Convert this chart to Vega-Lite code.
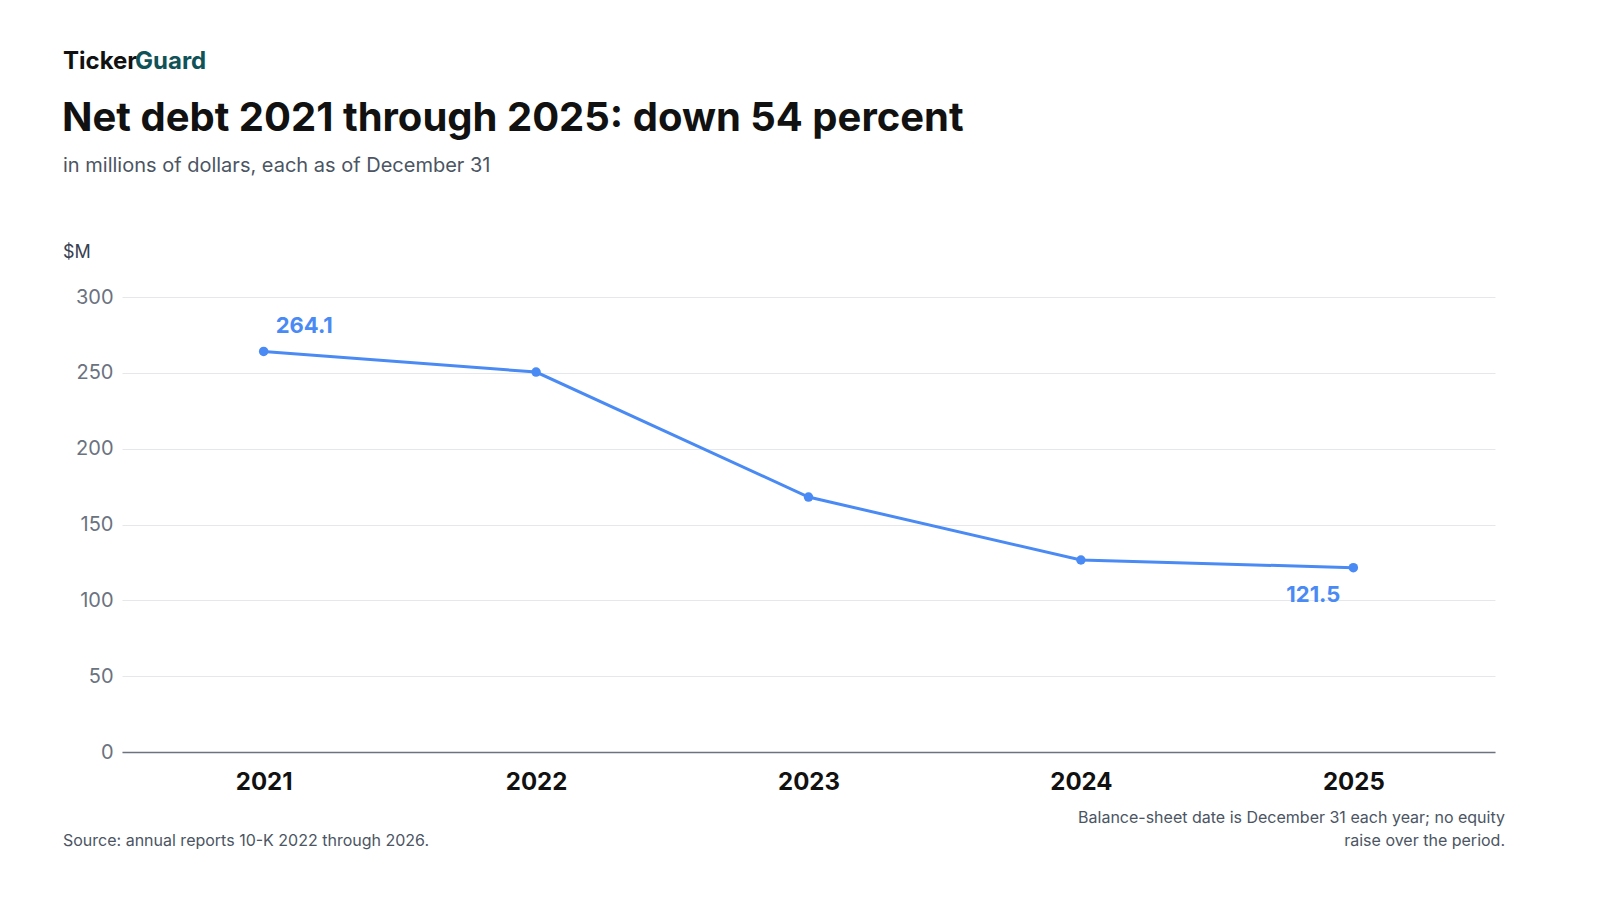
{
  "$schema": "https://vega.github.io/schema/vega-lite/v6.json",
  "width": 1373,
  "height": 455,
  "autosize": {"type": "none"},
  "padding": {"left": 122, "top": 297, "right": 105, "bottom": 148},
  "background": "#ffffff",
  "view": {"stroke": null},
  "config": {"font": "Inter", "text": {"font": "Inter"}},
  "data": {
    "values": [
      {"year": "2021", "debt": 264.1, "label": "264.1", "pos": "above"},
      {"year": "2022", "debt": 250.5, "label": "", "pos": ""},
      {"year": "2023", "debt": 168.1, "label": "", "pos": ""},
      {"year": "2024", "debt": 126.6, "label": "", "pos": ""},
      {"year": "2025", "debt": 121.5, "label": "121.5", "pos": "below"}
    ]
  },
  "encoding": {
    "x": {
      "field": "year", "type": "ordinal",
      "scale": {"type": "point", "padding": 0.52},
      "axis": {"title": null, "labelAngle": 0, "labelFontSize": 24, "labelFontWeight": "bold", "labelColor": "#111111", "ticks": false, "domainColor": "#6b7280", "domainWidth": 1.5, "labelPadding": 18}
    },
    "y": {
      "field": "debt", "type": "quantitative",
      "scale": {"domain": [0, 300]},
      "axis": {"title": null, "values": [0, 50, 100, 150, 200, 250, 300], "labelFontSize": 20, "labelColor": "#6b7280", "gridColor": "#e5e7eb", "domain": false, "ticks": false, "labelPadding": 9}
    }
  },
  "layer": [
    {"mark": {"type": "line", "color": "#4a8af4", "strokeWidth": 3}},
    {"mark": {"type": "point", "filled": true, "color": "#4a8af4", "size": 90, "opacity": 1}},
    {
      "transform": [{"filter": "datum.pos == 'above'"}],
      "mark": {"type": "text", "color": "#4a8af4", "fontSize": 22, "fontWeight": "bold", "align": "left", "dx": 12, "dy": -25},
      "encoding": {"text": {"field": "label"}}
    },
    {
      "transform": [{"filter": "datum.pos == 'below'"}],
      "mark": {"type": "text", "color": "#4a8af4", "fontSize": 22, "fontWeight": "bold", "align": "center", "dx": -40, "dy": 27},
      "encoding": {"text": {"field": "label"}}
    },
    {
      "data": {"values": [{"t": "Ticker"}]},
      "mark": {"type": "text", "fontSize": 24, "fontWeight": "bold", "color": "#111111", "align": "left", "baseline": "alphabetic"},
      "encoding": {"x": {"value": -59}, "y": {"value": -228}, "text": {"field": "t"}}
    },
    {
      "data": {"values": [{"t": "Guard"}]},
      "mark": {"type": "text", "fontSize": 24, "fontWeight": "bold", "color": "#0f5257", "align": "left", "baseline": "alphabetic"},
      "encoding": {"x": {"value": 13}, "y": {"value": -228}, "text": {"field": "t"}}
    },
    {
      "data": {"values": [{"t": "Net debt 2021 through 2025: down 54 percent"}]},
      "mark": {"type": "text", "fontSize": 40, "fontWeight": "bold", "color": "#111111", "align": "left", "baseline": "alphabetic", "letterSpacing": -0.8},
      "encoding": {"x": {"value": -60}, "y": {"value": -166}, "text": {"field": "t"}}
    },
    {
      "data": {"values": [{"t": "in millions of dollars, each as of December 31"}]},
      "mark": {"type": "text", "fontSize": 20, "color": "#4b5563", "align": "left", "baseline": "alphabetic"},
      "encoding": {"x": {"value": -59}, "y": {"value": -125}, "text": {"field": "t"}}
    },
    {
      "data": {"values": [{"t": "$M"}]},
      "mark": {"type": "text", "fontSize": 18, "color": "#374151", "align": "left", "baseline": "alphabetic"},
      "encoding": {"x": {"value": -59}, "y": {"value": -39}, "text": {"field": "t"}}
    },
    {
      "data": {"values": [{"t": "Source: annual reports 10-K 2022 through 2026."}]},
      "mark": {"type": "text", "fontSize": 16, "color": "#4b5563", "align": "left", "baseline": "alphabetic"},
      "encoding": {"x": {"value": -59}, "y": {"value": 549}, "text": {"field": "t"}}
    },
    {
      "data": {"values": [{"t": ["Balance-sheet date is December 31 each year; no equity", "raise over the period."]}]},
      "mark": {"type": "text", "fontSize": 16, "color": "#4b5563", "align": "right", "baseline": "alphabetic", "lineHeight": 23},
      "encoding": {"x": {"value": 1383}, "y": {"value": 526}, "text": {"field": "t"}}
    }
  ]
}
